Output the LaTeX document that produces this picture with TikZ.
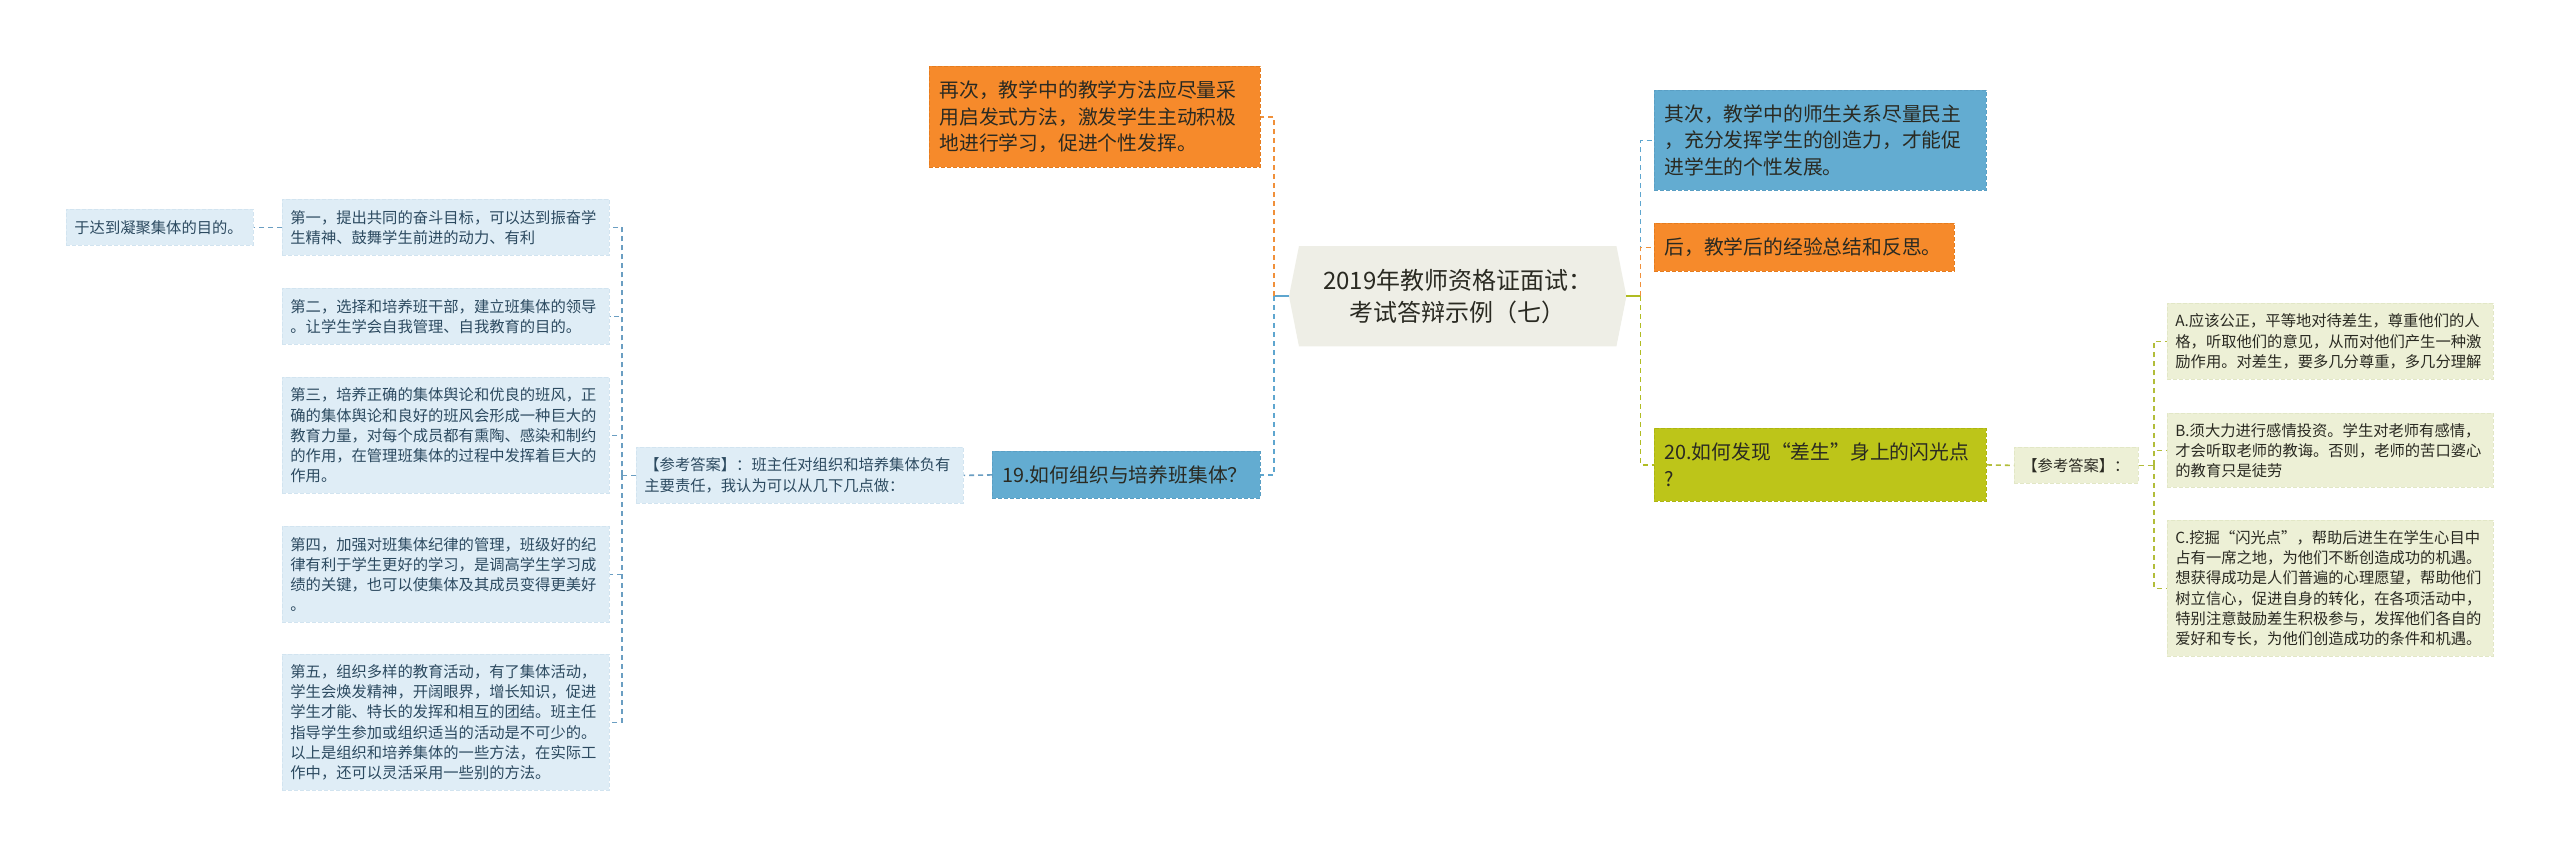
\documentclass[tikz,border=0pt]{standalone}
\usepackage{fontspec}
\newfontfamily\cjk{Noto Sans CJK SC}
\usetikzlibrary{backgrounds}
\definecolor{lbfill}{HTML}{DFEDF6}
\definecolor{lbdraw}{HTML}{D2E4F0}
\definecolor{lbtext}{HTML}{2C4A60}
\definecolor{bfill}{HTML}{63ACD1}
\definecolor{bdraw}{HTML}{5A9FC4}
\definecolor{ofill}{HTML}{F68A2B}
\definecolor{odraw}{HTML}{E57C1E}
\definecolor{gfill}{HTML}{BDC519}
\definecolor{gdraw}{HTML}{ADB512}
\definecolor{lgfill}{HTML}{EDF0D6}
\definecolor{lgdraw}{HTML}{E2E7C6}
\definecolor{rootfill}{HTML}{EEEEE6}
\definecolor{darktext}{HTML}{2A2A22}
\definecolor{lbconn}{HTML}{6A9EC2}
\definecolor{bconn}{HTML}{5EA6CF}
\definecolor{oconn}{HTML}{F0903A}
\definecolor{gconn}{HTML}{B0BC22}
\definecolor{lgconn}{HTML}{B2BD3A}
\tikzset{
  box/.style={anchor=north west, align=left, inner ysep=0pt, line width=0.8pt, dash pattern=on 4pt off 2pt},
  small/.style={font=\cjk\fontsize{15.3}{20.2}\selectfont},
  medium/.style={font=\cjk\fontsize{19.8}{26.5}\selectfont},
  lbbox/.style={box, small, fill=lbfill, draw=lbdraw, text=lbtext, inner xsep=8pt},
  lgbox/.style={box, small, fill=lgfill, draw=lgdraw, text=darktext, inner xsep=8pt},
  bbox/.style={box, medium, fill=bfill, draw=bdraw, text=darktext, inner xsep=10pt},
  obox/.style={box, medium, fill=ofill, draw=odraw, text=darktext, inner xsep=10pt},
  gbox/.style={box, medium, fill=gfill, draw=gdraw, text=darktext, inner xsep=10pt},
  conn/.style={line width=1.6pt, dash pattern=on 5pt off 4pt},
  stub/.style={line width=1.8pt},
}
\begin{document}
\begin{tikzpicture}[x=1pt,y=-1pt]
\begin{scope}[on background layer]
\fill[white] (0,0) rectangle (2560,857);
\end{scope}
\useasboundingbox (0,0) rectangle (2560,857);

% root
\node[font=\cjk\fontsize{24}{32}\selectfont, text=darktext, align=center, anchor=north west,
      minimum width=337pt, minimum height=100pt, inner sep=0pt] (root) at (1289,246)
      {2019年教师资格证面试：\\考试答辩示例（七）};
\begin{scope}[on background layer]
\fill[rootfill] (root.west) -- ([xshift=10pt]root.north west) -- ([xshift=-10pt]root.north east)
  -- (root.east) -- ([xshift=-10pt]root.south east) -- ([xshift=10pt]root.south west) -- cycle;
\end{scope}

% left branch
\node[obox, minimum width=331pt, minimum height=101pt, text width=311pt] (o3) at (929,66)
  {再次，教学中的教学方法应尽量采\\用启发式方法，激发学生主动积极\\地进行学习，促进个性发挥。};
\node[bbox, minimum width=268pt, minimum height=47pt, text width=248pt] (q19) at (992,451)
  {19.如何组织与培养班集体？};
\node[lbbox, minimum width=327pt, minimum height=56pt, text width=311pt] (ref1) at (636,447)
  {【参考答案】：班主任对组织和培养集体负有\\主要责任，我认为可以从几下几点做：};
\node[lbbox, minimum width=327pt, minimum height=56pt, text width=311pt] (d1) at (282,199)
  {第一，提出共同的奋斗目标，可以达到振奋学\\生精神、鼓舞学生前进的动力、有利};
\node[lbbox, minimum width=327pt, minimum height=56pt, text width=311pt] (d2) at (282,288)
  {第二，选择和培养班干部，建立班集体的领导\\。让学生学会自我管理、自我教育的目的。};
\node[lbbox, minimum width=327pt, minimum height=116pt, text width=311pt] (d3) at (282,377)
  {第三，培养正确的集体舆论和优良的班风，正\\确的集体舆论和良好的班风会形成一种巨大的\\教育力量，对每个成员都有熏陶、感染和制约\\的作用，在管理班集体的过程中发挥着巨大的\\作用。};
\node[lbbox, minimum width=327pt, minimum height=96pt, text width=311pt] (d4) at (282,526)
  {第四，加强对班集体纪律的管理，班级好的纪\\律有利于学生更好的学习，是调高学生学习成\\绩的关键，也可以使集体及其成员变得更美好\\。};
\node[lbbox, minimum width=327pt, minimum height=136pt, text width=311pt] (d5) at (282,654)
  {第五，组织多样的教育活动，有了集体活动，\\学生会焕发精神，开阔眼界，增长知识，促进\\学生才能、特长的发挥和相互的团结。班主任\\指导学生参加或组织适当的活动是不可少的。\\以上是组织和培养集体的一些方法，在实际工\\作中，还可以灵活采用一些别的方法。};
\node[lbbox, minimum width=187pt, minimum height=36pt, text width=171pt] (n0) at (66,209)
  {于达到凝聚集体的目的。};

% right branch
\node[bbox, minimum width=332pt, minimum height=100pt, text width=312pt] (b2) at (1654,90)
  {其次，教学中的师生关系尽量民主\\，充分发挥学生的创造力，才能促\\进学生的个性发展。};
\node[obox, minimum width=300pt, minimum height=48pt, text width=280pt] (o4) at (1654,223)
  {后，教学后的经验总结和反思。};
\node[gbox, minimum width=332pt, minimum height=73pt, text width=312pt] (q20) at (1654,428)
  {20.如何发现“差生”身上的闪光点\\?};
\node[lgbox, minimum width=124pt, minimum height=36pt, text width=108pt] (ref2) at (2014,447)
  {【参考答案】：};
\node[lgbox, minimum width=326pt, minimum height=76pt, text width=310pt] (ca) at (2167,303)
  {A.应该公正，平等地对待差生，尊重他们的人\\格，听取他们的意见，从而对他们产生一种激\\励作用。对差生，要多几分尊重，多几分理解};
\node[lgbox, minimum width=326pt, minimum height=74pt, text width=310pt] (cb) at (2167,413)
  {B.须大力进行感情投资。学生对老师有感情，\\才会听取老师的教诲。否则，老师的苦口婆心\\的教育只是徒劳};
\node[lgbox, minimum width=326pt, minimum height=136pt, text width=310pt] (cc) at (2167,520)
  {C.挖掘“闪光点”，帮助后进生在学生心目中\\占有一席之地，为他们不断创造成功的机遇。\\想获得成功是人们普遍的心理愿望，帮助他们\\树立信心，促进自身的转化，在各项活动中，\\特别注意鼓励差生积极参与，发挥他们各自的\\爱好和专长，为他们创造成功的条件和机遇。};

% connectors left
\draw[stub, bconn] (root.west) -- ++(-15,0) coordinate (lj);
\draw[conn, bconn] (lj) |- (q19.east);
\draw[conn, oconn] (lj) |- (o3.east);
\draw[conn, lbconn] (q19.west) -- (ref1.east);
\draw[conn, lbconn] (ref1.west) -- ++(-14,0) coordinate (lb);
\draw[conn, lbconn] (lb) |- (d1.east);
\draw[conn, lbconn] (lb) |- (d2.east);
\draw[conn, lbconn] (lb) |- (d3.east);
\draw[conn, lbconn] (lb) |- (d4.east);
\draw[conn, lbconn] (lb) |- (d5.east);
\draw[conn, lbconn] (d1.west) -- (n0.east);

% connectors right
\draw[stub, gconn] (root.east) -- ++(14,0) coordinate (rj);
\draw[conn, bconn] (rj) |- (b2.west);
\draw[conn, oconn] (rj) |- (o4.west);
\draw[conn, gconn] (rj) |- (q20.west);
\draw[conn, lgconn] (q20.east) -- (ref2.west);
\draw[conn, lgconn] (ref2.east) -- ++(15,0) coordinate (rb);
\draw[conn, lgconn] (rb) |- (ca.west);
\draw[conn, lgconn] (rb) |- (cb.west);
\draw[conn, lgconn] (rb) |- (cc.west);
\end{tikzpicture}
\end{document}
